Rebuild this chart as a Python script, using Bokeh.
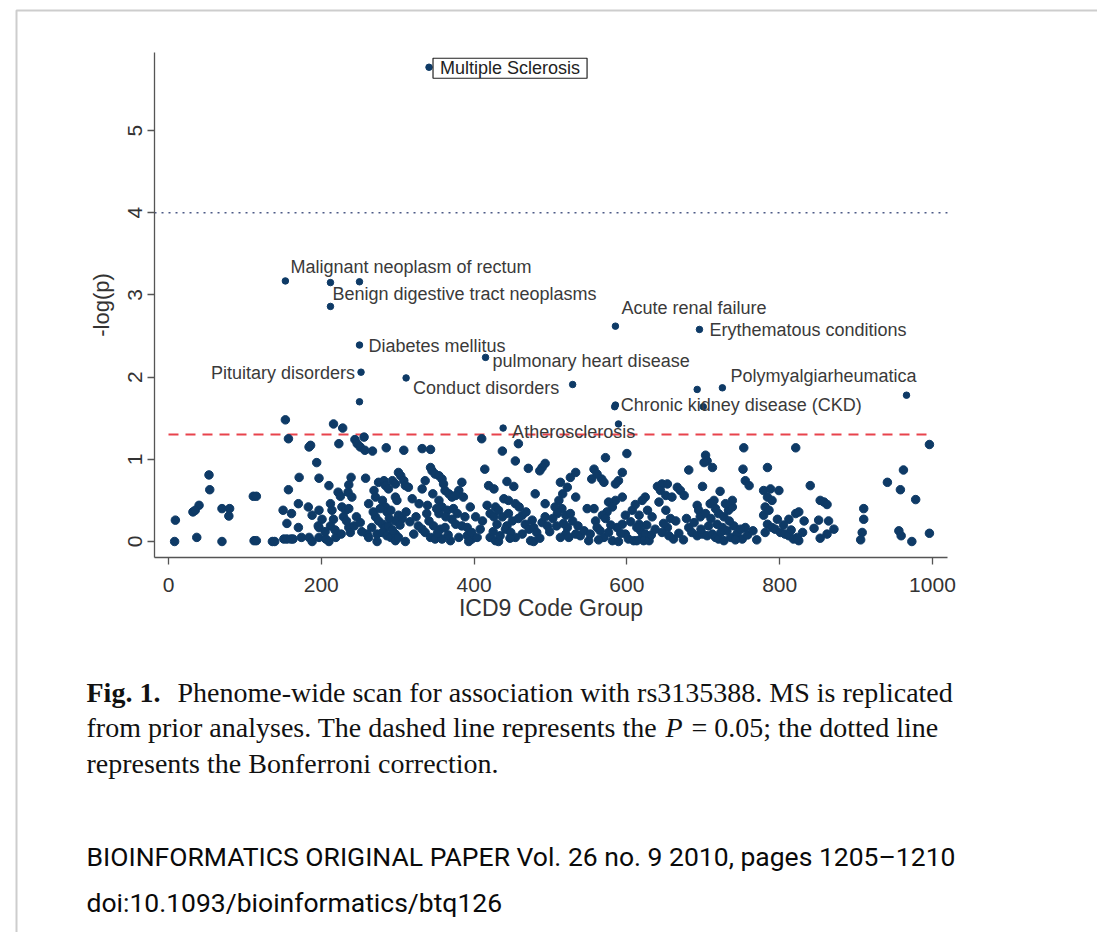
from bokeh.plotting import figure
from bokeh.models import Label, BoxAnnotation, FixedTicker, Range1d, ColumnDataSource
from bokeh.embed import file_html
from bokeh.resources import INLINE

# ---------------- data ----------------
x_ticks = [0, 200, 400, 600, 800, 1000]
y_ticks = [0, 1, 2, 3, 4, 5]

bonferroni = 4.0      # dotted line
p05 = 1.301           # dashed line, -log10(0.05)

# top hits (phenotypes with the highest -log(p))
hit_code = [341, 153, 212, 250, 212, 250, 415, 252, 311, 250, 585, 695, 725, 692, 966, 529, 584, 585, 700, 438, 589]
hit_logp = [5.77, 3.17, 3.15, 3.16, 2.86, 2.39, 2.24, 2.06, 1.99, 1.70, 2.62, 2.58, 1.87, 1.85, 1.78, 1.91, 1.64, 1.66, 1.64, 1.38, 1.43]

# remaining phenotypes
icd_code = [
    153, 157, 184, 186, 194, 197, 171, 53, 54, 157, 111, 115, 40, 32, 35, 70, 80, 79, 9, 8, 37, 70, 112, 115, 136, 139,
    150, 161, 155, 170, 183, 188, 170, 151, 155, 160, 163, 174, 184, 188, 197, 197, 197,
    216, 228, 223, 244, 247, 251, 257, 256, 267, 285, 308, 332, 343, 410,
    210, 222, 225, 236, 239, 258, 235, 240, 201, 196, 212, 214, 216, 212, 227, 232, 236, 229, 219, 206, 210, 236, 238,
    243, 251, 262, 269, 271, 275, 282, 284, 288, 280, 284, 286, 291, 293, 297, 301, 304, 297, 299, 308, 310, 314, 301,
    306, 297, 271, 275, 280, 284, 288, 273, 280, 286, 291, 297, 260, 262, 273, 310, 297, 301, 321, 328, 332, 336, 343,
    345, 349, 354, 358, 360, 362, 367, 371, 384, 380, 376, 386, 354, 358, 365, 354, 341, 347, 356, 362, 371, 376, 332,
    336, 343, 349, 358, 369, 380, 391, 397, 393, 384, 391, 397,
    458, 437, 454, 414, 471, 493, 489, 486, 419, 426, 443, 452, 439, 445, 454, 459, 480, 493, 428, 421, 426, 432, 437,
    430, 411, 408, 404, 445, 450, 443, 441, 448, 463, 467, 472, 478, 482, 489, 496, 493, 421, 428, 432, 454, 463, 474,
    478, 513, 516, 522, 526, 533, 511, 515, 520, 526, 533, 506, 509, 522, 520, 513, 524, 533, 539, 550, 557, 554, 567,
    570, 561, 572, 600, 594, 589, 585, 594, 585, 576, 581, 574, 568, 557, 559, 561, 565, 570, 576, 587, 594, 598, 607,
    581, 589, 602, 609, 598,
    753, 821, 681, 703, 705, 712, 701, 752, 755, 760, 784, 699, 722, 640, 646, 653, 644, 651, 659, 666, 670, 675, 624,
    620, 627, 616, 642, 651, 633, 657, 664, 653, 646, 655, 661, 616, 618, 620, 624, 622, 629, 681, 685, 692, 699, 705,
    712, 716, 692, 694, 696, 703, 709, 714, 716, 720, 727, 733, 738, 738, 729, 707, 718, 725, 731, 740, 720, 727, 736,
    744, 751, 755, 749, 779, 788, 799, 784, 790, 781, 779, 784, 790, 794, 801, 807, 812, 818, 825, 812, 821, 781, 613,
    613,
    996, 962, 941, 958, 978, 840, 853, 858, 862, 825, 832, 851, 864, 871, 862, 853, 823, 910, 910, 908, 906, 956, 959,
    973, 996,
    205, 218, 226, 233, 246, 253, 266, 268, 277, 289, 293, 303, 311, 316, 319, 324, 327, 338, 339, 346, 351, 352, 363,
    366, 373, 378, 388, 395, 402, 417, 425, 434, 447, 458, 468, 476, 486, 499, 503, 508, 517, 529, 536, 544, 548, 552,
    563, 572, 579, 592, 605, 611, 626, 632, 637, 648, 668, 674, 678, 688, 697, 710, 723, 734, 742, 758, 765, 770, 786,
    797, 805, 815, 830, 845,
]
neg_log_p = [
    1.48, 1.25, 1.15, 1.17, 0.96, 0.77, 0.78, 0.81, 0.63, 0.63, 0.55, 0.55, 0.44, 0.36, 0.38, 0.40, 0.40, 0.31, 0.26,
    0.00, 0.05, 0.00, 0.01, 0.01, 0.00, 0.00,
    0.38, 0.34, 0.22, 0.46, 0.42, 0.32, 0.17, 0.03, 0.03, 0.03, 0.03, 0.05, 0.05, 0.00, 0.38, 0.17, 0.05,
    1.43, 1.38, 1.19, 1.24, 1.19, 1.15, 1.11, 1.27, 1.10, 1.14, 1.11, 1.13, 1.12, 1.25,
    0.68, 0.60, 0.55, 0.69, 0.78, 0.77, 0.60, 0.54, 0.27, 0.19, 0.46, 0.38, 0.27, 0.19, 0.42, 0.38, 0.40, 0.30, 0.05,
    0.03, 0.00, 0.17, 0.11,
    0.19, 0.23, 0.46, 0.62, 0.54, 0.72, 0.74, 0.68, 0.64, 0.50, 0.42, 0.36, 0.38, 0.74, 0.70, 0.84, 0.80, 0.54, 0.50,
    0.74, 0.68, 0.66, 0.32,
    0.28, 0.25, 0.30, 0.25, 0.21, 0.17, 0.19, 0.09, 0.11, 0.07, 0.05, 0.09, 0.09, 0.05, 0.00, 0.00, 0.01, 0.05, 0.09,
    0.46, 0.64, 0.74, 0.90,
    0.86, 0.82, 0.80, 0.76, 0.70, 0.62, 0.58, 0.54, 0.72, 0.62, 0.56, 0.54, 0.50, 0.42, 0.38, 0.34, 0.25, 0.19, 0.15,
    0.17, 0.27, 0.21, 0.15,
    0.11, 0.05, 0.03, 0.03, 0.01, 0.05, 0.07, 0.03, 0.00, 0.19, 0.17, 0.11,
    1.19, 1.10, 0.98, 0.88, 0.89, 0.95, 0.90, 0.86, 0.68, 0.64, 0.73, 0.67, 0.52, 0.50, 0.46, 0.42, 0.58, 0.46, 0.42,
    0.34, 0.30, 0.38, 0.30,
    0.21, 0.25, 0.15, 0.05, 0.34, 0.25, 0.19, 0.15, 0.11, 0.32, 0.21, 0.15, 0.17, 0.11, 0.23, 0.19, 0.30, 0.05, 0.01,
    0.00, 0.05, 0.09, 0.01,
    0.00, 0.72, 0.58, 0.66, 0.78, 0.84, 0.50, 0.40, 0.32, 0.34, 0.54, 0.42, 0.34, 0.17, 0.09, 0.05, 0.05, 0.09, 0.07,
    0.01, 0.88, 0.76, 0.76,
    0.72, 0.82, 1.02, 1.07, 0.84, 0.74, 0.70, 0.54, 0.50, 0.48, 0.42, 0.36, 0.32, 0.40, 0.25, 0.17, 0.13, 0.05, 0.11,
    0.17, 0.21, 0.32, 0.38,
    0.01, 0.00, 0.03, 0.01, 0.09,
    1.14, 1.14, 0.87, 1.05, 0.98, 0.90, 0.96, 0.88, 0.74, 0.68, 0.90, 0.67, 0.61, 0.67, 0.70, 0.70, 0.62, 0.56, 0.54,
    0.66, 0.62, 0.56, 0.54,
    0.50, 0.38, 0.32, 0.48, 0.38, 0.30, 0.28, 0.25, 0.17, 0.11, 0.07, 0.03, 0.21, 0.13, 0.05, 0.09, 0.01, 0.01, 0.17,
    0.11, 0.07, 0.09, 0.07,
    0.09, 0.05, 0.44, 0.38, 0.30, 0.34, 0.46, 0.50, 0.40, 0.34, 0.30, 0.38, 0.42, 0.50, 0.46, 0.19, 0.21, 0.17, 0.13,
    0.19, 0.03, 0.01, 0.05,
    0.09, 0.03, 0.17, 0.15, 0.62, 0.64, 0.62, 0.54, 0.50, 0.42, 0.32, 0.21, 0.17, 0.15, 0.11, 0.09, 0.07, 0.03, 0.01,
    0.27, 0.34, 0.11, 0.01,
    0.17,
    1.18, 0.87, 0.72, 0.63, 0.51, 0.68, 0.50, 0.48, 0.45, 0.36, 0.25, 0.26, 0.25, 0.15, 0.09, 0.04, 0.05, 0.40, 0.27,
    0.11, 0.02, 0.13, 0.07,
    0.00, 0.10,
    0.12, 0.14, 0.09, 0.25, 0.30, 0.12, 0.17, 0.36, 0.40, 0.28, 0.14, 0.20, 0.36, 0.24, 0.52, 0.30, 0.19, 0.34, 0.44,
    0.58, 0.40, 0.10, 0.30,
    0.08, 0.40, 0.34, 0.30, 0.42, 0.30, 0.44, 0.12, 0.07, 0.04, 0.28, 0.36, 0.26, 0.04, 0.12, 0.28, 0.19, 0.22, 0.25,
    0.19, 0.13, 0.40, 0.09,
    0.02, 0.28, 0.20, 0.10, 0.24, 0.45, 0.20, 0.08, 0.15, 0.22, 0.10, 0.02, 0.28, 0.23, 0.15, 0.28, 0.11, 0.25, 0.02,
    0.08, 0.13, 0.02, 0.38,
    0.27, 0.20, 0.14, 0.11, 0.16,
]

# annotated phenotypes: (index into hit arrays, label text)
ann_index = [0, 1, 2, 5, 6, 7, 8, 10, 11, 12, 16, 19]
ann_text = ["Multiple Sclerosis", "Malignant neoplasm of rectum", "Benign digestive tract neoplasms",
            "Diabetes mellitus", "pulmonary heart disease", "Pituitary disorders", "Conduct disorders",
            "Acute renal failure", "Erythematous conditions", "Polymyalgiarheumatica",
            "Chronic kidney disease (CKD)", "Atherosclerosis"]

caption_bold = "Fig. 1."
caption_1 = "Phenome-wide scan for association with rs3135388. MS is replicated"
caption_2a = "from prior analyses. The dashed line represents the"
caption_2b = "P"
caption_2c = "= 0.05; the dotted line"
caption_3 = "represents the Bonferroni correction."
footer_1 = "BIOINFORMATICS ORIGINAL PAPER Vol. 26 no. 9 2010, pages 1205\u20131210"
footer_2 = "doi:10.1093/bioinformatics/btq126"

# ---------------- styles / positions ----------------
W, H = 1097, 932
X_VIEW = (-219.9, 1216.0)        # visible data window (the frame fills the page)
Y_VIEW = (-4.757, 6.582)
X_AXIS_SPAN = (-18.3, 1019.6)    # extent of the drawn axes
Y_AXIS_SPAN = (-0.195, 5.949)

# label offsets in px relative to the dot (dx right, dy up) and alignment
ann_dx = [4, 5, 2, 9, 7, -6, 7, 6, 10, 8, 6, 9]
ann_dy = [-1, 14, -11, -1, -4, -1, -10, 18, -1, 12, 2, -4]
ann_align = ["left", "left", "left", "left", "left", "right", "left", "left", "left", "left", "left", "left"]

SANS = "Liberation Sans"
SERIF = "Liberation Serif"
DOT = "#0e3a66"
TXT = "#3a3a3a"

p = figure(width=W, height=H, output_backend="svg", toolbar_location=None, title=None,
           x_range=Range1d(*X_VIEW), y_range=Range1d(*Y_VIEW),
           min_border_left=0, min_border_right=0, min_border_top=0, min_border_bottom=0)
p.outline_line_color = None
p.xgrid.visible = False
p.ygrid.visible = False
p.background_fill_color = "white"
p.border_fill_color = "white"

p.xaxis.ticker = FixedTicker(ticks=x_ticks)
p.yaxis.ticker = FixedTicker(ticks=y_ticks)
p.xaxis.axis_label = "ICD9 Code Group"
p.yaxis.axis_label = "-log(p)"
p.xaxis.fixed_location = Y_AXIS_SPAN[0]
p.yaxis.fixed_location = X_AXIS_SPAN[0]
p.xaxis.bounds = X_AXIS_SPAN
p.yaxis.bounds = Y_AXIS_SPAN
for ax in (p.xaxis[0], p.yaxis[0]):
    ax.axis_line_color = "#555555"
    ax.axis_line_width = 1.3
    ax.major_tick_line_color = "#555555"
    ax.major_tick_line_width = 1.3
    ax.major_tick_in = 0
    ax.major_tick_out = 7
    ax.minor_tick_line_color = None
    ax.major_label_text_font = SANS
    ax.major_label_text_font_size = "21px"
    ax.major_label_text_color = "#333333"
    ax.axis_label_text_font = SANS
    ax.axis_label_text_font_style = "normal"
    ax.axis_label_text_color = "#333333"
p.xaxis.axis_label_text_font_size = "23px"
p.yaxis.axis_label_text_font_size = "22px"
p.yaxis.major_label_orientation = "vertical"
p.yaxis.major_label_standoff = 6
p.yaxis.axis_label_standoff = 11
p.xaxis.major_label_standoff = 13
p.xaxis.axis_label_standoff = 0

# threshold lines
p.line(x=list(X_AXIS_SPAN), y=[bonferroni, bonferroni], line_color="#4d5a86", line_dash="2 5", line_width=1.5)
p.line(x=[x_ticks[0], x_ticks[-1]], y=[p05, p05], line_color="#e8434c", line_dash="10 7", line_width=2)

p.scatter(x="x", y="y", source=ColumnDataSource(dict(x=icd_code, y=neg_log_p)),
          size=8.5, fill_color=DOT, line_color=DOT)
p.scatter(x="x", y="y", source=ColumnDataSource(dict(x=hit_code, y=hit_logp)),
          size=6.5, fill_color=DOT, line_color=DOT)

for k, (i, t) in enumerate(zip(ann_index, ann_text)):
    kw = dict(x=hit_code[i], y=hit_logp[i], text=t, x_offset=ann_dx[k], y_offset=ann_dy[k],
              text_align=ann_align[k], text_baseline="middle", text_font=SANS,
              text_font_size="18px", text_color=TXT)
    if k == 0:
        kw.update(border_line_color="#222222", border_line_width=1.2, padding=(7, 0),
                  background_fill_color="white", text_color="#222222")
    p.add_layout(Label(**kw))

# caption and footer (screen px from the page's bottom-left corner)
def add_text(txt, sx, sy, font, size, style="normal", align="left", color="#111111"):
    p.add_layout(Label(x=sx, y=sy, x_units="screen", y_units="screen", text=txt, text_font=font,
                       text_font_size=size, text_font_style=style, text_align=align,
                       text_baseline="middle", text_color=color))

add_text(caption_bold, 86, 240, SERIF, "28px", "bold")
add_text(caption_1, 177, 240, SERIF, "28px")
add_text(caption_2a, 86, 205, SERIF, "28px")
add_text(caption_2b, 665, 205, SERIF, "28px", "italic")
add_text(caption_2c, 691, 205, SERIF, "28px")
add_text(caption_3, 86, 169, SERIF, "28px")
add_text(footer_1, 86, 76, "Roboto", "26.5px", color="#0a0a0a")
add_text(footer_2, 86, 30, "Roboto", "26.5px", color="#0a0a0a")

# page frame
p.add_layout(BoxAnnotation(left=16, right=W + 20, top=H - 10, bottom=-20,
                           left_units="screen", right_units="screen", top_units="screen", bottom_units="screen",
                           fill_alpha=0, line_color="#5a5a5a", line_width=2))

open("out.html", "w").write(file_html(p, INLINE))
